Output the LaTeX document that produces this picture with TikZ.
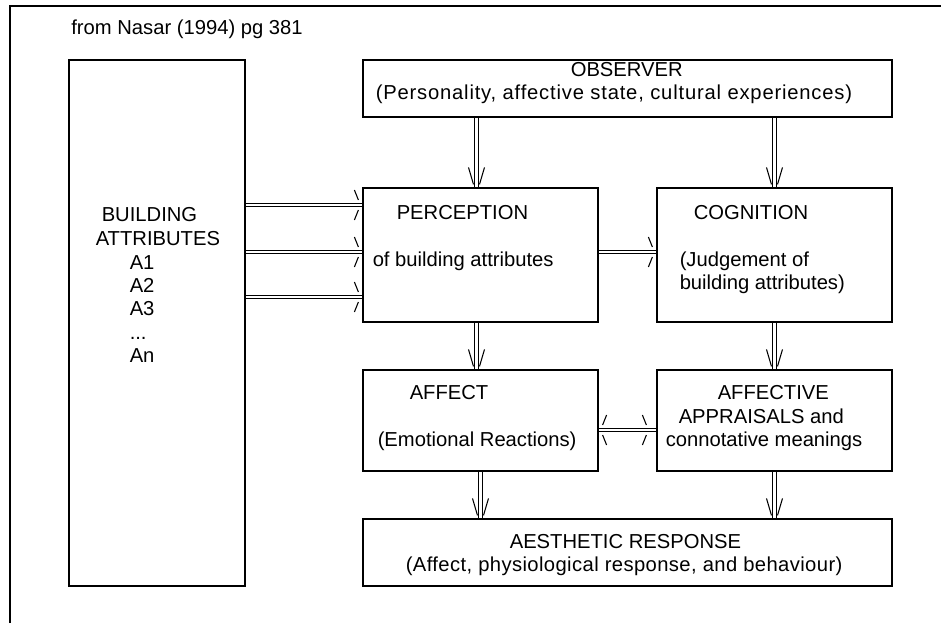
\documentclass[tikz,border=0pt]{standalone}
\usepackage{fontspec}
\setmainfont{Liberation Sans}
\usetikzlibrary{positioning,calc}

\begin{document}
\begin{tikzpicture}[
    x=0.02cm, y=-0.02cm,
    font=\fontsize{11.5}{13.5}\selectfont,
    box/.style={draw, line width=0.7pt, inner sep=0pt},
    attrbox/.style={box, minimum width=3.52cm, minimum height=10.52cm},
    widebox/.style={box, minimum width=10.58cm, minimum height=1.14cm},
    stagebox/.style={box, minimum width=4.7cm, minimum height=2.68cm},
    txt/.style={inner sep=0pt, anchor=base west},
    link/.style={double, line width=0.6pt, double distance=1.3pt,
      shorten >=0.35pt, shorten <=0.35pt},
    hhead/.pic={\draw[line width=0.6pt] (-8,-15) -- (-4,-5) (-8,15) -- (-4,5);},
    vhead/.pic={\draw[line width=0.6pt] (-8,-20) -- (-3,-3) (8,-20) -- (3,-3);}
  ]
  \useasboundingbox (0,0) rectangle (941,623);
  % ---------------- frame ----------------
  \draw[line width=1.1pt] (10,623) -- (10,6) -- (941,6);
  \node[txt] (src) at (71,34) {from Nasar (1994) pg 381};
  % ---------------- boxes ----------------
  \node[attrbox] (B) at (157,323) {};
  \node[widebox] (O) at (627.5,88.5) {};
  \node[stagebox] (P) at (480.5,255) {};
  \node[stagebox] (C) at (774.5,255) {};
  \node[stagebox, minimum height=2.02cm] (A) at (480.5,420.5) {};
  \node[stagebox, minimum height=2.02cm] (AP) at (774.5,420.5) {};
  \node[widebox, minimum height=1.34cm] (R) at (627.5,552.5) {};
  % ---------------- texts ----------------
  \node[txt] (bt1) at ($(B.north west)+(33,162)$) {BUILDING};
  \node[txt] (bt2) at ($(B.north west)+(27,186)$) {ATTRIBUTES};
  \node[txt] (a1) at ($(B.north west)+(61,210)$) {A1};
  \node[txt] (a2) at ($(B.north west)+(61,233)$) {A2};
  \node[txt] (a3) at ($(B.north west)+(61,256)$) {A3};
  \node[txt] (adots) at ($(B.north west)+(61,280)$) {...};
  \node[txt] (an) at ($(B.north west)+(61,303)$) {An};
  \node[txt] (ot1) at ($(O.north west)+(208,17)$) {OBSERVER};
  \node[txt] (ot2) at ($(O.north west)+(13,40)$)
    {\addfontfeature{LetterSpace=4}(Personality, affective state, cultural experiences)};
  \node[txt] (pt1) at ($(P.north west)+(34,32)$) {PERCEPTION};
  \node[txt] (pt2) at ($(P.north west)+(10,79)$) {of building attributes};
  \node[txt] (ct1) at ($(C.north west)+(37,32)$) {COGNITION};
  \node[txt] (ct2) at ($(C.north west)+(23,79)$) {(Judgement of};
  \node[txt] (ct3) at ($(C.north west)+(23,102)$) {building attributes)};
  \node[txt] (at1) at ($(A.north west)+(47,30)$) {AFFECT};
  \node[txt] (at2) at ($(A.north west)+(15,77)$) {(Emotional Reactions)};
  \node[txt] (apt1) at ($(AP.north west)+(61,30)$) {AFFECTIVE};
  \node[txt] (apt2) at ($(AP.north west)+(22,54)$) {APPRAISALS and};
  \node[txt] (apt3) at ($(AP.north west)+(9,77)$) {connotative meanings};
  \node[txt] (rt1) at ($(R.north west)+(147,30)$) {AESTHETIC RESPONSE};
  \node[txt] (rt2) at ($(R.north west)+(43,53)$)
    {\addfontfeature{LetterSpace=2}(Affect, physiological response, and behaviour)};
  % ---------------- links ----------------
  \foreach \dy in {-50,-3,42}{
    \draw[link] ($(B.east)+(0,\dy-68)$) -- ($(P.west)+(0,\dy)$);
    \pic at ($(P.west)+(0,\dy)$) {hhead};
  }
  \draw[link] ($(P.east)+(0,-3)$) -- ($(C.west)+(0,-3)$);
  \pic at ($(C.west)+(0,-3)$) {hhead};
  \draw[link] ($(O.south -| P.north)+(-4,0)$) -- ($(P.north)+(-4,0)$);
  \pic at ($(P.north)+(-4,0)$) {vhead};
  \draw[link] (O.south -| C.north) -- (C.north);
  \pic at (C.north) {vhead};
  \draw[link] ($(P.south)+(-4,0)$) -- ($(A.north)+(-4,0)$);
  \pic at ($(A.north)+(-4,0)$) {vhead};
  \draw[link] (C.south) -- (AP.north);
  \pic at (AP.north) {vhead};
  \draw[link] (A.south) -- (A.south |- R.north);
  \pic at (A.south |- R.north) {vhead};
  \draw[link] (AP.south) -- (AP.south |- R.north);
  \pic at (AP.south |- R.north) {vhead};
  \draw[link] ($(A.east)+(0,9.5)$) -- ($(AP.west)+(0,9.5)$);
  \pic[rotate=180] at ($(A.east)+(0,9.5)$) {hhead};
  \pic at ($(AP.west)+(-6,9.5)$) {hhead};
\end{tikzpicture}
\end{document}
